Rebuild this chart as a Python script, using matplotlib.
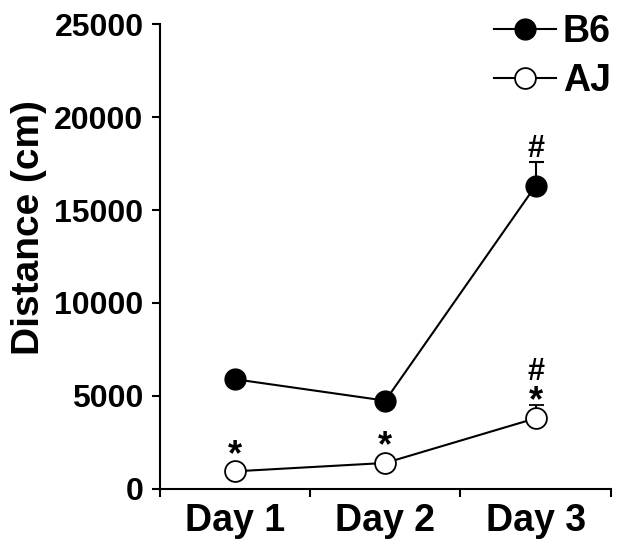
import matplotlib
matplotlib.use("Agg")
import matplotlib.pyplot as plt
import numpy as np

days = ["Day 1", "Day 2", "Day 3"]
b6_mean = [5900, 4750, 16300]
b6_err = [250, 150, 1300]
aj_mean = [950, 1400, 3800]
aj_err = [100, 100, 700]
yticks = [0, 5000, 10000, 15000, 20000, 25000]

# annotations: (series, day index, text, fontsize, offset in points)
annots = [("aj", 0, "*", 26, 3.0), ("aj", 1, "*", 26, 3.5), ("aj", 2, "*", 26, -4.5),
          ("aj", 2, "#", 22, 18.0), ("b6", 2, "#", 22, 3.0)]

FONT = ['Liberation Sans', 'DejaVu Sans']
plt.rcParams['font.family'] = FONT
plt.rcParams['font.weight'] = 'bold'

fig = plt.figure(figsize=(6.24, 5.57), dpi=100)
ax = fig.add_axes([0.2564, 0.1221, 0.9787 - 0.2564, 0.9569 - 0.1221])

x = np.arange(1, len(days) + 1)
lw = 1.5
ax.errorbar(x, b6_mean, yerr=[np.zeros(3), b6_err], fmt='-o', color='black',
            mfc='black', mec='black', ms=15, lw=lw, capsize=5.4, capthick=lw,
            elinewidth=lw, label='B6', zorder=3)
ax.errorbar(x, aj_mean, yerr=[np.zeros(3), aj_err], fmt='-o', color='black',
            mfc='white', mec='black', mew=1.3, ms=15, lw=lw, capsize=5.4,
            capthick=lw, elinewidth=lw, label='AJ', zorder=3)

series = {"b6": (b6_mean, b6_err), "aj": (aj_mean, aj_err)}
for s, i, t, fs, off in annots:
    m, e = series[s]
    ax.annotate(t, xy=(x[i], m[i] + e[i]), xytext=(0, off),
                textcoords='offset points', ha='center', va='baseline',
                fontsize=fs, fontweight='bold')

ax.set_xlim(0.5, 3.5)
ax.set_ylim(0, 25000)
ax.set_yticks(yticks)
ax.set_yticklabels([str(v) for v in yticks])
ax.set_xticks([0.5, 1.5, 2.5, 3.5])
ax.set_xticklabels([])
ax.set_xticks(x, minor=True)
ax.set_xticklabels(days, minor=True)
ax.tick_params(axis='x', which='minor', length=0, pad=10, labelsize=27)
ax.tick_params(axis='x', which='major', length=6, width=lw, direction='out')
ax.tick_params(axis='y', length=6, width=lw, direction='out', pad=5.8, labelsize=23)
for lab in ax.get_xticklabels(minor=True) + ax.get_yticklabels():
    lab.set_fontweight('bold')

for sp in ['top', 'right']:
    ax.spines[sp].set_visible(False)
for sp in ['left', 'bottom']:
    ax.spines[sp].set_linewidth(lw)

ax.set_ylabel("Distance (cm)", fontsize=28, fontweight='bold', va='center')
ax.yaxis.set_label_coords(-0.29, 0.563)

handles, labels = ax.get_legend_handles_labels()
handles = [h[0] for h in handles]
leg = ax.legend(handles, labels, loc='upper right', bbox_to_anchor=(1.0, 1.022),
                frameon=False, fontsize=27, handlelength=1.65, handletextpad=0.17,
                labelspacing=0.36, borderpad=0, borderaxespad=0)
for t in leg.get_texts():
    t.set_fontweight('bold')

fig.savefig("out.png", dpi=100)
